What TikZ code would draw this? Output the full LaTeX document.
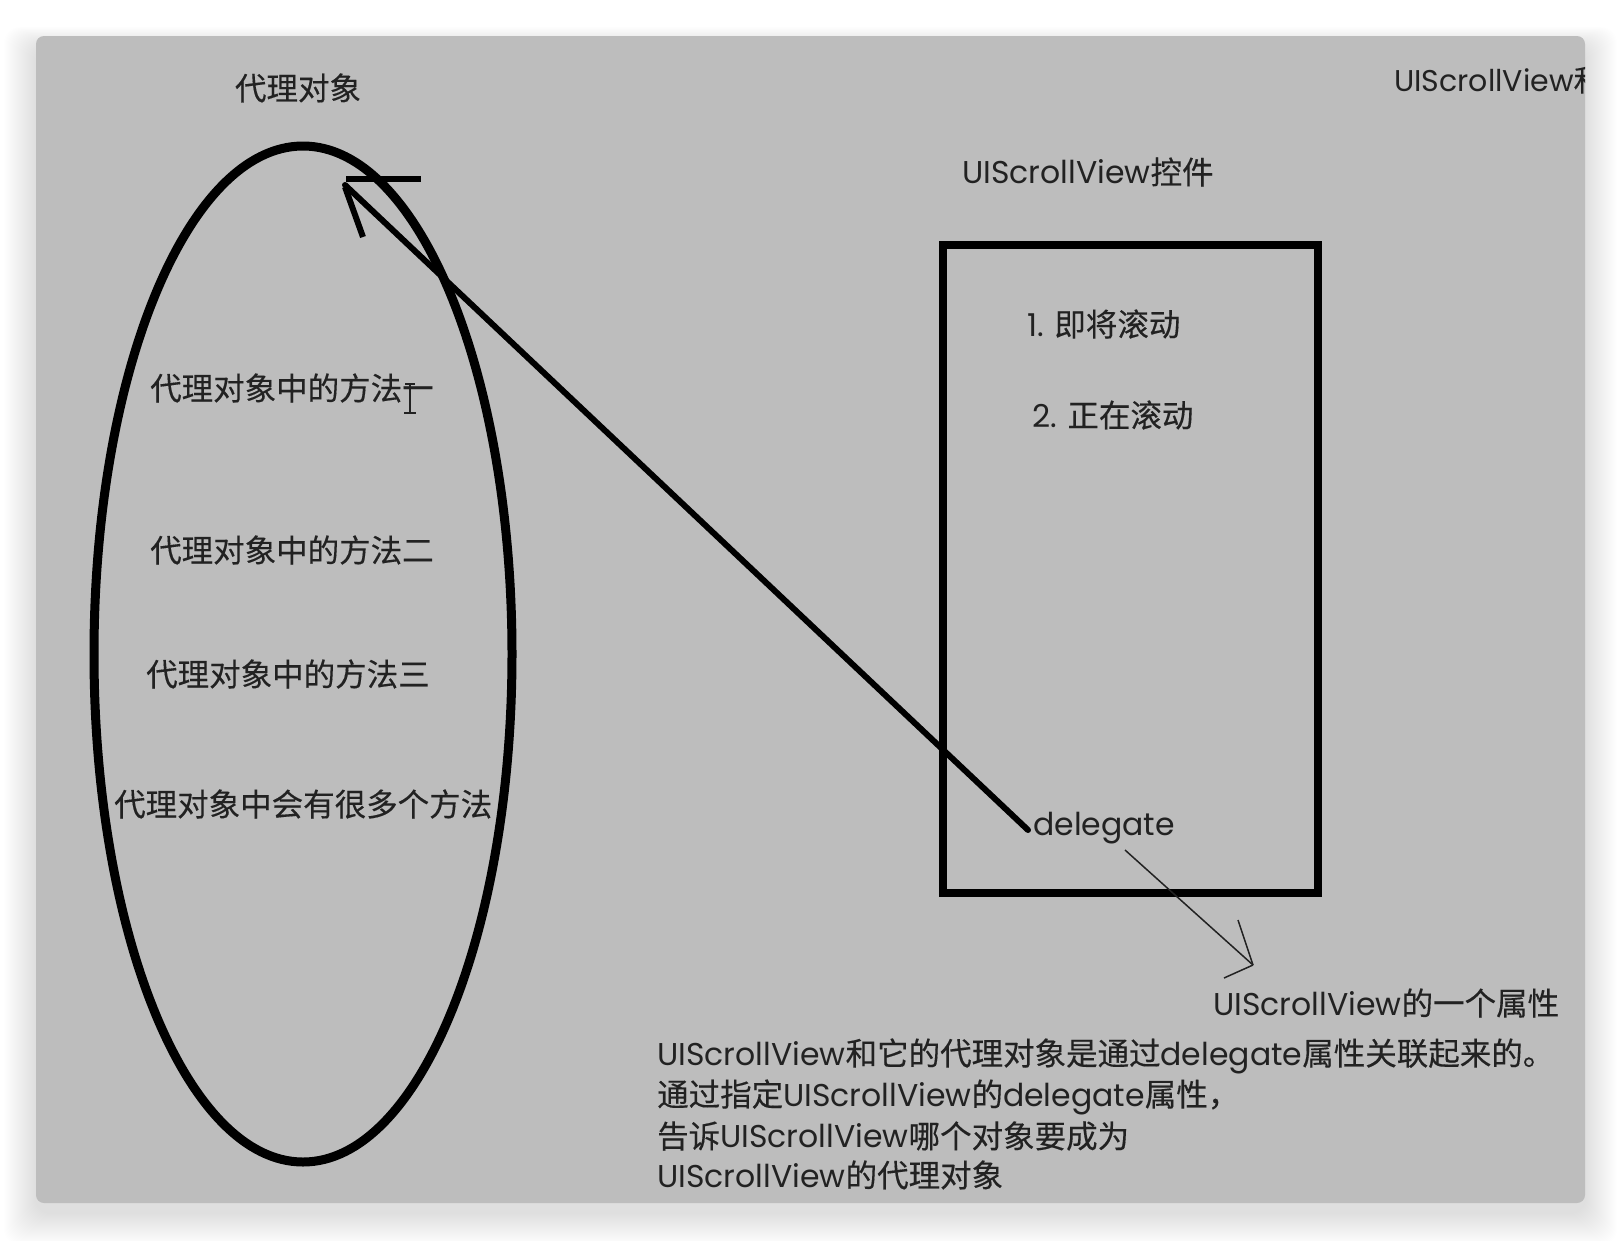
\documentclass[tikz,border=0pt]{standalone}
\usepackage{fontspec}
\setmainfont{Poppins}
\newfontfamily\cjk[FakeBold=0.3]{Noto Sans CJK SC}
\newcommand{\zh}[1]{{\cjk #1}}
\usetikzlibrary{shapes.geometric}
\definecolor{panel}{HTML}{BDBDBD}
\definecolor{ink}{HTML}{222222}
\begin{document}
\begin{tikzpicture}[x=1pt,y=-1pt,
  txt/.style={font=\fontsize{31.5}{38}\selectfont, text=ink, inner sep=0pt, anchor=west},
  thick line/.style={line width=6pt, draw=black},
  thin line/.style={line width=1.5pt, draw=ink}]
\useasboundingbox (0,0) rectangle (1622,1240);
\fill[white] (0,0) rectangle (1622,1240);
\foreach \i in {1,...,32}{
  \fill[black, opacity=0.0045, rounded corners=16pt] (36-\i,36-0.6*\i+10) rectangle (1585+\i,1203+\i+10);
}
\fill[panel, rounded corners=8pt] (36,36) rectangle (1585,1203);

% ellipse: delegate object
\node (agent) [ellipse, draw=black, line width=9pt, minimum width=418pt, minimum height=1016pt, inner sep=0pt] at (303,654) {};
% scroll view box
\node (box) [rectangle, draw=black, line width=7.5pt, minimum width=375pt, minimum height=648pt, inner sep=0pt] at (1130.5,569) {};

% texts
\node (t0) [txt, anchor=center] at (298,88) {\zh{代理对象}};
\begin{scope}
\clip (36,36) rectangle (1585,1203);
\node (t1) [txt, font=\fontsize{30}{36}\selectfont] at (1394,80) {UIScrollView\zh{和}};
\end{scope}
\node (t2) [txt] at (962,172) {UIScrollView\zh{控件}};
\node (m1) [txt] at (1027,324) {1.\,\,\zh{即将滚动}};
\node (m2) [txt] at (1032,415) {2.\,\,\zh{正在滚动}};
\node (a1) [txt] at (150,388) {\zh{代理对象中的方法一}};
\node (a2) [txt] at (150,550) {\zh{代理对象中的方法二}};
\node (a3) [txt] at (146,674) {\zh{代理对象中的方法三}};
\node (a4) [txt] at (114,804) {\zh{代理对象中会有很多个方法}};
\node (dlg) [txt] at (1033,828) {delegate};
\node (prop) [txt] at (1213,1003) {UIScrollView\zh{的一个属性}};
\node (p1) [txt] at (657,1056) {UIScrollView\zh{和它的代理对象是通过}delegate\zh{属性关联起来的。}};
\node (p2) [txt] at (657,1097) {\zh{通过指定}UIScrollView\zh{的}delegate\zh{属性，}};
\node (p3) [txt] at (657,1136) {\zh{告诉}UIScrollView\zh{哪个对象要成为}};
\node (p4) [txt] at (657,1175) {UIScrollView\zh{的代理对象}};

% hand-drawn arrow from delegate to the delegate object
\coordinate (dstart) at (1028,830);
\coordinate (tip) at (345,185);
\coordinate (hA1) at (346,179);
\coordinate (hA2) at (421,179);
\coordinate (hB1) at (345,187);
\coordinate (hB2) at (363,237);
\draw[thick line, line cap=round] (dstart) -- (tip);
\draw[thick line] (hA1) -- (hA2);
\draw[thick line] (hB1) -- (hB2);

% thin arrow from delegate to its caption
\coordinate (s1) at (1125,850);
\coordinate (s2) at (1253,965);
\coordinate (s3) at (1238,920);
\coordinate (s4) at (1224,978);
\draw[thin line] (s1) -- (s2);
\draw[thin line] (s2) -- (s3);
\draw[thin line] (s2) -- (s4);

% text cursor (I-beam)
\coordinate (c1) at (410,385);
\coordinate (c2) at (410,412);
\draw[line width=1.5pt, draw=ink] (405,384) -- (415,384) (c1) -- (c2) (404,413) -- (416,413);
\end{tikzpicture}
\end{document}
